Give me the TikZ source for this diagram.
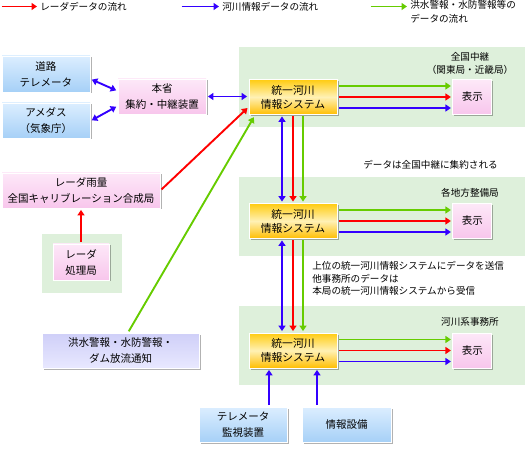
\documentclass[tikz,border=0pt]{standalone}
\usepackage{fontspec}
\setmainfont{Noto Sans CJK JP}
\usetikzlibrary{arrows.meta,positioning,shadows}

\definecolor{flowred}{HTML}{FF0000}
\definecolor{flowblue}{HTML}{3300FF}
\definecolor{flowgreen}{HTML}{66CC00}
\definecolor{areagreen}{HTML}{DEF0DB}
\definecolor{bluetop}{HTML}{DCEEFF}
\definecolor{bluebot}{HTML}{A6D0F7}
\definecolor{pinktop}{HTML}{FDE8F8}
\definecolor{pinkbot}{HTML}{F8C6EC}
\definecolor{systop}{HTML}{FFCC11}
\definecolor{sysmid}{HTML}{FFF1B5}
\definecolor{sysbot}{HTML}{FFBE00}
\definecolor{lavtop}{HTML}{CFCFF8}
\definecolor{lavbot}{HTML}{E8E8FF}

\begin{document}
\begin{tikzpicture}[
    x = 1pt, y = -1pt, % pixel grid, y pointing down
    > = {Triangle[length=5.5pt,width=7pt]}, % arrow head style
    shorten > = 1.5pt, % don't touch arrow head to node
    shorten < = 1.5pt,
    semithick % line style
    ]

    \tikzset{
    box/.style = {draw = white, line width = 0.8pt, inner sep = 0pt, align = center,
      font = \fontsize{10.5}{16}\selectfont,
      drop shadow = {shadow xshift = 1.5pt, shadow yshift = -1.5pt, fill = black, opacity = 0.3}},
    bluebox/.style = {box, top color = bluetop, bottom color = bluebot},
    pinkbox/.style = {box, top color = pinktop, bottom color = pinkbot},
    lavbox/.style = {box, top color = lavtop, bottom color = lavbot},
    sysbox/.style = {box, top color = systop, bottom color = sysbot, middle color = sysmid,
      minimum width = 88pt, minimum height = 35pt, font = \fontsize{10.8}{14}\selectfont},
    dispbox/.style = {pinkbox, minimum width = 39pt, minimum height = 35pt},
    region/.style = {fill = areagreen},
    note/.style = {inner sep = 0pt, align = center, font = \fontsize{9.6}{12.5}\selectfont},
    flow/.style = {line width = 1.9pt, ->},
    redflow/.style = {flow, color = flowred},
    blueflow/.style = {flow, color = flowblue},
    greenflow/.style = {flow, color = flowgreen}
    }

    \useasboundingbox (0,0) rectangle (525,449);

    % green areas
    \path[region] (239,47) rectangle (525,127);
    \path[region] (239,177) rectangle (525,256);
    \path[region] (239,306) rectangle (525,385);
    \path[region] (42,234) rectangle (122,293);

    % legend
    \coordinate (legR) at (0,6.5);
    \coordinate (legB) at (180,6.5);
    \coordinate (legG) at (369,6.5);
    \node[note, anchor = west] (legRtext) at (40,6.5) {レーダデータの流れ};
    \node[note, anchor = west] (legBtext) at (222,6.5) {河川情報データの流れ};
    \node[note, anchor = north west, align = left, font = \fontsize{9.6}{14}\selectfont]
      (legGtext) at (410,0.5) {洪水警報・水防警報等の\\データの流れ};
    \draw[redflow, shorten > = 3pt] (legR) -- (legR -| legRtext.west);
    \draw[blueflow, shorten > = 3pt] (legB) -- (legB -| legBtext.west);
    \draw[greenflow, shorten > = 3pt] (legG) -- (legG -| legGtext.west);

    % boxes
    \node[bluebox, minimum width = 88pt, minimum height = 36pt] (road) at (46,74) {道路\\テレメータ};
    \node[bluebox, minimum width = 88pt, minimum height = 35pt] (amedas) at (46,120.5) {アメダス\\（気象庁）};
    \node[pinkbox, minimum width = 88pt, minimum height = 35pt] (honsho) at (162,96.5) {本省\\集約・中継装置};
    \node[pinkbox, minimum width = 158pt, minimum height = 35pt] (radar) at (81,190.5) {レーダ雨量\\全国キャリブレーション合成局};
    \node[pinkbox, minimum width = 56pt, minimum height = 36pt] (rproc) at (81,262) {レーダ\\処理局};
    \node[lavbox, minimum width = 157pt, minimum height = 35pt] (flood) at (120.5,350.5) {洪水警報・水防警報・\\ダム放流通知};

    \node[sysbox] (sysA) at (293,97) {統一河川\\情報システム};
    \node[sysbox] (sysB) at (293,221) {統一河川\\情報システム};
    \node[sysbox] (sysC) at (293,350.5) {統一河川\\情報システム};
    \node[dispbox, right = 115pt of sysA] (dispA) {表示};
    \node[dispbox, right = 115pt of sysB] (dispB) {表示};
    \node[dispbox, right = 115pt of sysC] (dispC) {表示};

    \node[bluebox, minimum width = 88pt, minimum height = 35pt] (tele) at (243,424.5) {テレメータ\\監視装置};
    \node[bluebox, minimum width = 89pt, minimum height = 35pt] (equip) at (346.5,424.5) {情報設備};

    % labels
    \node[note] (lblA) at (470,63.5) {全国中継\\（関東局・近畿局）};
    \node[note] (lblB) at (470,193) {各地方整備局};
    \node[note] (lblC) at (470,322) {河川系事務所};
    \node[note] (gather) at (430.5,165) {データは全国中継に集約される};
    \node[note, anchor = north west, align = left] (relay) at (312,261.5)
      {上位の統一河川情報システムにデータを送信\\他事務所のデータは\\本局の統一河川情報システムから受信};

    % flows into the top system
    \draw[blueflow, <->] ([yshift = -5pt]road.east) -- ([yshift = 5.5pt]honsho.west);
    \draw[blueflow, <->] ([yshift = -0.5pt]amedas.east) -- ([yshift = -9.5pt]honsho.west);
    \draw[blueflow, <->] (honsho.east) -- (honsho.east -| sysA.west);
    \draw[redflow] (rproc.north) -- (radar.south);
    \draw[redflow] (radar.east) -- ([yshift = -10pt]sysA.west);
    \draw[greenflow] ([xshift = 7.5pt]flood.north) -- ([xshift = 6pt, yshift = -1pt]sysA.south west);

    % system to display
    \draw[greenflow] ([yshift = 11pt]sysA.east) -- ([yshift = 11pt]sysA.east -| dispA.west);
    \draw[redflow] (sysA.east) -- (sysA.east -| dispA.west);
    \draw[blueflow] ([yshift = -11pt]sysA.east) -- ([yshift = -11pt]sysA.east -| dispA.west);
    \draw[greenflow] ([yshift = 11pt]sysB.east) -- ([yshift = 11pt]sysB.east -| dispB.west);
    \draw[redflow] (sysB.east) -- (sysB.east -| dispB.west);
    \draw[blueflow] ([yshift = -11pt]sysB.east) -- ([yshift = -11pt]sysB.east -| dispB.west);
    \draw[greenflow] ([yshift = 11pt]sysC.east) -- ([yshift = 11pt]sysC.east -| dispC.west);
    \draw[redflow] (sysC.east) -- (sysC.east -| dispC.west);
    \draw[blueflow] ([yshift = -11pt]sysC.east) -- ([yshift = -11pt]sysC.east -| dispC.west);

    % between the systems
    \draw[blueflow, <->] ([xshift = -11pt]sysA.south) -- ([xshift = -11pt]sysB.north);
    \draw[redflow] (sysA.south) -- (sysB.north);
    \draw[greenflow] ([xshift = 10pt]sysA.south) -- ([xshift = 10pt]sysB.north);
    \draw[blueflow, <->] ([xshift = -11pt]sysB.south) -- ([xshift = -11pt]sysC.north);
    \draw[redflow] (sysB.south) -- (sysC.north);
    \draw[greenflow] ([xshift = 10pt]sysB.south) -- ([xshift = 10pt]sysC.north);

    % local inputs
    \draw[blueflow] ([xshift = 26pt]tele.north) -- ([xshift = 26pt]tele.north |- sysC.south);
    \draw[blueflow] ([xshift = -29.5pt]equip.north) -- ([xshift = -29.5pt]equip.north |- sysC.south);
\end{tikzpicture}
\end{document}
